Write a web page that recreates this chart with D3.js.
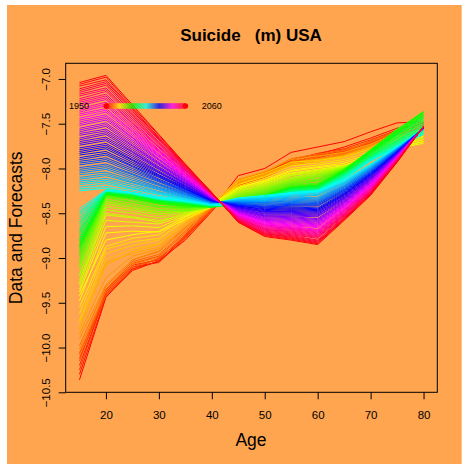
<!DOCTYPE html>
<html>
<head>
<meta charset="utf-8">
<script src="https://cdn.jsdelivr.net/npm/d3@7"></script>
<style>
  body { margin: 0; background: #fff; }
  svg { display: block; }
  text { font-family: "Liberation Sans", Arial, Helvetica, sans-serif; fill: #000; }
</style>
</head>
<body>
<div id="chart"></div>
<script>
// ages on the x axis
const ages = [15, 20, 25, 30, 35, 40, 45, 50, 55, 60, 65, 70, 75, 80];

// observed log death rates, one row per year from 1950
const obsStart = 1950;
const observed = [
  [-10.36, -9.44, -9.12, -9.04, -8.76, -8.46, -8.08, -8.00, -7.82, -7.76, -7.70, -7.59, -7.49, -7.48],
  [-10.30, -9.43, -9.14, -9.03, -8.80, -8.48, -8.15, -8.06, -7.90, -7.84, -7.76, -7.66, -7.55, -7.50],
  [-10.20, -9.40, -9.10, -9.05, -8.78, -8.47, -8.18, -8.08, -7.93, -7.86, -7.80, -7.70, -7.58, -7.52],
  [-10.25, -9.38, -9.08, -9.02, -8.74, -8.45, -8.16, -8.05, -7.91, -7.83, -7.78, -7.68, -7.57, -7.49],
  [-10.12, -9.41, -9.13, -9.00, -8.77, -8.46, -8.19, -8.09, -7.95, -7.88, -7.81, -7.71, -7.60, -7.53],
  [-10.15, -9.36, -9.06, -8.98, -8.72, -8.44, -8.14, -8.07, -7.94, -7.85, -7.79, -7.72, -7.62, -7.54],
  [-10.06, -9.42, -9.10, -9.01, -8.75, -8.47, -8.20, -8.10, -7.96, -7.90, -7.83, -7.73, -7.61, -7.51],
  [-10.08, -9.35, -9.04, -8.96, -8.70, -8.43, -8.17, -8.06, -7.92, -7.87, -7.82, -7.69, -7.59, -7.55],
  [-9.98, -9.32, -9.02, -8.93, -8.66, -8.42, -8.13, -8.04, -7.89, -7.84, -7.80, -7.70, -7.58, -7.50],
  [-10.02, -9.37, -9.07, -8.99, -8.72, -8.45, -8.18, -8.08, -7.93, -7.89, -7.84, -7.74, -7.63, -7.56],
  [-9.90, -9.30, -9.02, -8.92, -8.68, -8.44, -8.16, -8.07, -7.94, -7.90, -7.85, -7.75, -7.62, -7.55],
  [-9.85, -9.22, -8.98, -8.90, -8.65, -8.43, -8.18, -8.09, -7.96, -7.92, -7.86, -7.77, -7.64, -7.57],
  [-9.80, -9.05, -8.95, -8.88, -8.62, -8.40, -8.12, -8.03, -7.90, -7.86, -7.82, -7.73, -7.60, -7.53],
  [-9.78, -9.08, -8.93, -8.85, -8.63, -8.42, -8.15, -8.06, -7.93, -7.90, -7.86, -7.76, -7.63, -7.56],
  [-9.72, -9.02, -8.90, -8.84, -8.60, -8.41, -8.17, -8.08, -7.95, -7.92, -7.88, -7.78, -7.66, -7.58],
  [-9.70, -8.95, -8.86, -8.80, -8.58, -8.40, -8.14, -8.05, -7.93, -7.91, -7.87, -7.78, -7.65, -7.60],
  [-9.62, -8.90, -8.82, -8.78, -8.57, -8.41, -8.18, -8.09, -7.97, -7.94, -7.90, -7.81, -7.68, -7.62],
  [-9.55, -8.87, -8.78, -8.74, -8.55, -8.40, -8.20, -8.11, -8.00, -7.96, -7.92, -7.84, -7.71, -7.64],
  [-9.48, -8.72, -8.70, -8.71, -8.57, -8.43, -8.22, -8.13, -8.02, -7.98, -7.94, -7.86, -7.74, -7.68],
  [-9.42, -8.80, -8.74, -8.70, -8.54, -8.41, -8.21, -8.14, -8.03, -7.99, -7.96, -7.88, -7.76, -7.70],
  [-9.38, -8.65, -8.64, -8.66, -8.53, -8.42, -8.23, -8.15, -8.05, -8.01, -7.97, -7.90, -7.77, -7.72],
  [-9.35, -8.58, -8.60, -8.62, -8.52, -8.41, -8.22, -8.16, -8.06, -8.02, -7.98, -7.90, -7.78, -7.70],
  [-9.30, -8.52, -8.55, -8.60, -8.50, -8.42, -8.25, -8.17, -8.07, -8.03, -7.97, -7.88, -7.75, -7.66],
  [-9.28, -8.50, -8.54, -8.58, -8.51, -8.43, -8.24, -8.18, -8.08, -8.04, -7.99, -7.89, -7.74, -7.65],
  [-9.25, -8.46, -8.50, -8.55, -8.49, -8.42, -8.26, -8.19, -8.10, -8.05, -7.98, -7.87, -7.72, -7.62],
  [-9.20, -8.43, -8.47, -8.52, -8.48, -8.43, -8.27, -8.20, -8.11, -8.06, -7.99, -7.88, -7.71, -7.60],
  [-9.18, -8.40, -8.45, -8.50, -8.47, -8.42, -8.28, -8.21, -8.12, -8.07, -8.00, -7.86, -7.69, -7.58],
  [-9.12, -8.38, -8.43, -8.49, -8.48, -8.43, -8.29, -8.22, -8.13, -8.08, -7.99, -7.85, -7.68, -7.56],
  [-9.10, -8.36, -8.42, -8.47, -8.46, -8.42, -8.30, -8.23, -8.14, -8.09, -8.00, -7.84, -7.66, -7.54],
  [-9.08, -8.35, -8.40, -8.46, -8.47, -8.43, -8.31, -8.24, -8.15, -8.10, -8.01, -7.84, -7.64, -7.50],
  [-9.05, -8.33, -8.38, -8.44, -8.45, -8.42, -8.32, -8.25, -8.16, -8.12, -8.00, -7.82, -7.62, -7.47],
  [-9.02, -8.32, -8.37, -8.43, -8.44, -8.43, -8.33, -8.26, -8.17, -8.13, -8.01, -7.81, -7.61, -7.45],
  [-8.98, -8.31, -8.35, -8.42, -8.44, -8.42, -8.34, -8.27, -8.18, -8.14, -8.02, -7.80, -7.59, -7.42],
  [-8.95, -8.30, -8.34, -8.40, -8.43, -8.43, -8.35, -8.28, -8.19, -8.16, -8.01, -7.79, -7.58, -7.40],
  [-8.93, -8.29, -8.33, -8.39, -8.42, -8.42, -8.36, -8.29, -8.20, -8.17, -8.02, -7.80, -7.57, -7.38],
  [-8.90, -8.28, -8.32, -8.38, -8.41, -8.43, -8.37, -8.30, -8.21, -8.18, -8.03, -7.79, -7.56, -7.37],
  [-8.88, -8.29, -8.33, -8.39, -8.42, -8.42, -8.38, -8.31, -8.22, -8.19, -8.02, -7.80, -7.58, -7.36],
  [-8.86, -8.28, -8.31, -8.37, -8.40, -8.43, -8.39, -8.30, -8.21, -8.20, -8.04, -7.81, -7.59, -7.38],
  [-8.85, -8.27, -8.30, -8.36, -8.39, -8.42, -8.38, -8.31, -8.22, -8.19, -8.03, -7.82, -7.60, -7.40],
  [-8.82, -8.28, -8.31, -8.37, -8.40, -8.43, -8.40, -8.32, -8.23, -8.21, -8.05, -7.83, -7.62, -7.41],
  [-8.80, -8.26, -8.29, -8.35, -8.38, -8.42, -8.39, -8.31, -8.22, -8.20, -8.04, -7.82, -7.61, -7.43],
  [-8.78, -8.27, -8.30, -8.36, -8.39, -8.43, -8.41, -8.33, -8.24, -8.22, -8.06, -7.84, -7.63, -7.44],
  [-8.75, -8.26, -8.29, -8.35, -8.38, -8.42, -8.40, -8.32, -8.23, -8.21, -8.05, -7.85, -7.65, -7.46],
  [-8.72, -8.25, -8.28, -8.34, -8.37, -8.41, -8.41, -8.34, -8.25, -8.23, -8.07, -7.86, -7.66, -7.48],
  [-8.70, -8.26, -8.29, -8.35, -8.38, -8.42, -8.40, -8.33, -8.24, -8.22, -8.06, -7.87, -7.68, -7.50],
  [-8.68, -8.25, -8.28, -8.34, -8.37, -8.41, -8.41, -8.35, -8.26, -8.24, -8.08, -7.88, -7.69, -7.52],
  [-8.65, -8.24, -8.27, -8.33, -8.36, -8.40, -8.40, -8.34, -8.25, -8.23, -8.07, -7.87, -7.70, -7.53],
  [-8.62, -8.25, -8.28, -8.34, -8.37, -8.41, -8.41, -8.36, -8.27, -8.25, -8.09, -7.89, -7.71, -7.55],
  [-8.60, -8.24, -8.27, -8.33, -8.36, -8.40, -8.40, -8.35, -8.26, -8.24, -8.08, -7.88, -7.72, -7.56],
  [-8.57, -8.25, -8.28, -8.34, -8.37, -8.41, -8.41, -8.36, -8.28, -8.25, -8.10, -7.90, -7.73, -7.57],
  [-8.55, -8.24, -8.27, -8.33, -8.36, -8.40, -8.40, -8.35, -8.27, -8.24, -8.09, -7.89, -7.74, -7.58],
  [-8.52, -8.25, -8.28, -8.34, -8.37, -8.41, -8.41, -8.36, -8.28, -8.26, -8.11, -7.91, -7.74, -7.59],
  [-8.50, -8.24, -8.27, -8.33, -8.36, -8.40, -8.40, -8.35, -8.27, -8.25, -8.10, -7.90, -7.75, -7.60],
  [-8.48, -8.25, -8.28, -8.34, -8.37, -8.41, -8.41, -8.36, -8.28, -8.26, -8.12, -7.92, -7.76, -7.61],
  [-8.45, -8.24, -8.27, -8.33, -8.36, -8.40, -8.40, -8.35, -8.27, -8.25, -8.11, -7.91, -7.76, -7.62]
];

// forecasts 2005-2060, one array per age (index = year - 2005)
const fc15 = [-8.25,-8.23,-8.21,-8.18,-8.16,-8.14,-8.12,-8.10,-8.07,-8.05,-8.03,-8.01,-7.99,-7.96,-7.94,-7.92,-7.90,-7.88,-7.85,-7.83,-7.81,-7.79,-7.77,-7.74,-7.72,-7.70,-7.68,-7.66,-7.63,-7.61,-7.59,-7.57,-7.55,-7.52,-7.50,-7.48,-7.46,-7.44,-7.41,-7.39,-7.37,-7.35,-7.33,-7.30,-7.28,-7.26,-7.24,-7.22,-7.19,-7.17,-7.15,-7.13,-7.11,-7.08,-7.06,-7.04];
const fc20 = [-8.22,-8.20,-8.17,-8.15,-8.13,-8.11,-8.08,-8.06,-8.04,-8.01,-7.99,-7.97,-7.95,-7.92,-7.90,-7.88,-7.85,-7.83,-7.81,-7.78,-7.76,-7.74,-7.72,-7.69,-7.67,-7.65,-7.62,-7.60,-7.58,-7.56,-7.53,-7.51,-7.49,-7.46,-7.44,-7.42,-7.40,-7.37,-7.35,-7.33,-7.30,-7.28,-7.26,-7.23,-7.21,-7.19,-7.17,-7.14,-7.12,-7.10,-7.07,-7.05,-7.03,-7.01,-6.98,-6.96];
const fc25 = [-8.27,-8.25,-8.23,-8.22,-8.20,-8.18,-8.16,-8.15,-8.13,-8.11,-8.09,-8.07,-8.06,-8.04,-8.02,-8.00,-7.98,-7.97,-7.95,-7.93,-7.91,-7.90,-7.88,-7.86,-7.84,-7.82,-7.81,-7.79,-7.77,-7.75,-7.74,-7.72,-7.70,-7.68,-7.66,-7.65,-7.63,-7.61,-7.59,-7.58,-7.56,-7.54,-7.52,-7.50,-7.49,-7.47,-7.45,-7.43,-7.41,-7.40,-7.38,-7.36,-7.34,-7.33,-7.31,-7.29];
const fc30 = [-8.32,-8.31,-8.29,-8.28,-8.27,-8.26,-8.24,-8.23,-8.22,-8.21,-8.19,-8.18,-8.17,-8.15,-8.14,-8.13,-8.12,-8.10,-8.09,-8.08,-8.07,-8.05,-8.04,-8.03,-8.01,-8.00,-7.99,-7.98,-7.96,-7.95,-7.94,-7.93,-7.91,-7.90,-7.89,-7.87,-7.86,-7.85,-7.84,-7.82,-7.81,-7.80,-7.79,-7.77,-7.76,-7.75,-7.73,-7.72,-7.71,-7.70,-7.68,-7.67,-7.66,-7.65,-7.63,-7.62];
const fc35 = [-8.36,-8.35,-8.35,-8.34,-8.33,-8.32,-8.32,-8.31,-8.30,-8.29,-8.29,-8.28,-8.27,-8.26,-8.26,-8.25,-8.24,-8.23,-8.23,-8.22,-8.21,-8.20,-8.20,-8.19,-8.18,-8.17,-8.17,-8.16,-8.15,-8.14,-8.14,-8.13,-8.12,-8.11,-8.11,-8.10,-8.09,-8.08,-8.08,-8.07,-8.06,-8.05,-8.05,-8.04,-8.03,-8.02,-8.02,-8.01,-8.00,-7.99,-7.99,-7.98,-7.97,-7.96,-7.96,-7.95];
const fc40 = [-8.40,-8.40,-8.40,-8.39,-8.39,-8.39,-8.39,-8.38,-8.38,-8.38,-8.38,-8.37,-8.37,-8.37,-8.37,-8.36,-8.36,-8.36,-8.36,-8.36,-8.35,-8.35,-8.35,-8.35,-8.34,-8.34,-8.34,-8.34,-8.33,-8.33,-8.33,-8.33,-8.32,-8.32,-8.32,-8.32,-8.31,-8.31,-8.31,-8.31,-8.31,-8.30,-8.30,-8.30,-8.30,-8.29,-8.29,-8.29,-8.29,-8.28,-8.28,-8.28,-8.28,-8.27,-8.27,-8.27];
const fc45 = [-8.33,-8.33,-8.34,-8.34,-8.35,-8.35,-8.36,-8.36,-8.37,-8.37,-8.38,-8.38,-8.39,-8.39,-8.40,-8.40,-8.41,-8.41,-8.42,-8.42,-8.43,-8.43,-8.44,-8.44,-8.45,-8.45,-8.46,-8.46,-8.47,-8.47,-8.48,-8.48,-8.49,-8.49,-8.50,-8.50,-8.51,-8.51,-8.52,-8.52,-8.53,-8.53,-8.54,-8.54,-8.55,-8.55,-8.56,-8.56,-8.57,-8.57,-8.58,-8.58,-8.59,-8.59,-8.60,-8.60];
const fc50 = [-8.30,-8.31,-8.32,-8.33,-8.33,-8.34,-8.35,-8.36,-8.37,-8.38,-8.38,-8.39,-8.40,-8.41,-8.42,-8.43,-8.43,-8.44,-8.45,-8.46,-8.47,-8.48,-8.48,-8.49,-8.50,-8.51,-8.52,-8.53,-8.53,-8.54,-8.55,-8.56,-8.57,-8.58,-8.58,-8.59,-8.60,-8.61,-8.62,-8.63,-8.63,-8.64,-8.65,-8.66,-8.67,-8.68,-8.68,-8.69,-8.70,-8.71,-8.72,-8.73,-8.73,-8.74,-8.75,-8.76];
const fc55 = [-8.27,-8.28,-8.29,-8.30,-8.31,-8.32,-8.33,-8.34,-8.35,-8.36,-8.37,-8.38,-8.39,-8.40,-8.40,-8.41,-8.42,-8.43,-8.44,-8.45,-8.46,-8.47,-8.48,-8.49,-8.50,-8.51,-8.52,-8.53,-8.54,-8.55,-8.56,-8.57,-8.58,-8.59,-8.60,-8.61,-8.62,-8.63,-8.64,-8.65,-8.66,-8.67,-8.67,-8.68,-8.69,-8.70,-8.71,-8.72,-8.73,-8.74,-8.75,-8.76,-8.77,-8.78,-8.79,-8.80];
const fc60 = [-8.25,-8.26,-8.27,-8.28,-8.29,-8.30,-8.32,-8.33,-8.34,-8.35,-8.36,-8.37,-8.38,-8.39,-8.40,-8.41,-8.42,-8.44,-8.45,-8.46,-8.47,-8.48,-8.49,-8.50,-8.51,-8.52,-8.53,-8.54,-8.56,-8.57,-8.58,-8.59,-8.60,-8.61,-8.62,-8.63,-8.64,-8.65,-8.66,-8.68,-8.69,-8.70,-8.71,-8.72,-8.73,-8.74,-8.75,-8.76,-8.77,-8.78,-8.80,-8.81,-8.82,-8.83,-8.84,-8.85];
const fc65 = [-8.13,-8.14,-8.15,-8.15,-8.16,-8.17,-8.18,-8.19,-8.20,-8.20,-8.21,-8.22,-8.23,-8.24,-8.24,-8.25,-8.26,-8.27,-8.28,-8.29,-8.29,-8.30,-8.31,-8.32,-8.33,-8.33,-8.34,-8.35,-8.36,-8.37,-8.38,-8.38,-8.39,-8.40,-8.41,-8.42,-8.42,-8.43,-8.44,-8.45,-8.46,-8.47,-8.47,-8.48,-8.49,-8.50,-8.51,-8.51,-8.52,-8.53,-8.54,-8.55,-8.56,-8.56,-8.57,-8.58];
const fc70 = [-7.95,-7.96,-7.96,-7.97,-7.98,-7.98,-7.99,-7.99,-8.00,-8.01,-8.01,-8.02,-8.03,-8.03,-8.04,-8.05,-8.05,-8.06,-8.06,-8.07,-8.08,-8.08,-8.09,-8.10,-8.10,-8.11,-8.12,-8.12,-8.13,-8.13,-8.14,-8.15,-8.15,-8.16,-8.17,-8.17,-8.18,-8.19,-8.19,-8.20,-8.20,-8.21,-8.22,-8.22,-8.23,-8.24,-8.24,-8.25,-8.26,-8.26,-8.27,-8.27,-8.28,-8.29,-8.29,-8.30];
const fc75 = [-7.76,-7.76,-7.77,-7.77,-7.77,-7.78,-7.78,-7.78,-7.78,-7.79,-7.79,-7.79,-7.80,-7.80,-7.80,-7.81,-7.81,-7.81,-7.82,-7.82,-7.82,-7.82,-7.83,-7.83,-7.83,-7.84,-7.84,-7.84,-7.85,-7.85,-7.85,-7.86,-7.86,-7.86,-7.87,-7.87,-7.87,-7.87,-7.88,-7.88,-7.88,-7.89,-7.89,-7.89,-7.90,-7.90,-7.90,-7.91,-7.91,-7.91,-7.91,-7.92,-7.92,-7.92,-7.93,-7.93];
const fc80 = [-7.56,-7.56,-7.56,-7.56,-7.56,-7.56,-7.56,-7.56,-7.56,-7.56,-7.55,-7.55,-7.55,-7.55,-7.55,-7.55,-7.55,-7.55,-7.55,-7.55,-7.55,-7.55,-7.55,-7.55,-7.55,-7.55,-7.55,-7.55,-7.54,-7.54,-7.54,-7.54,-7.54,-7.54,-7.54,-7.54,-7.54,-7.54,-7.54,-7.54,-7.54,-7.54,-7.54,-7.54,-7.54,-7.54,-7.53,-7.53,-7.53,-7.53,-7.53,-7.53,-7.53,-7.53,-7.53,-7.53];
const forecastCols = [fc15, fc20, fc25, fc30, fc35, fc40, fc45, fc50, fc55, fc60, fc65, fc70, fc75, fc80];

const legendYears = [1950, 2060];
const xTicks = [20, 30, 40, 50, 60, 70, 80];
const yTicks = [-10.5, -10.0, -9.5, -9.0, -8.5, -8.0, -7.5, -7.0];

// ---- layout ----
const width = 463, height = 464;
const plot = { left: 65.7, right: 437.3, top: 63.3, bottom: 392.3 };
const bg = "#ffa54f";
const font = '"Liberation Sans", Arial, Helvetica, sans-serif';

const svg = d3.select("#chart").append("svg")
  .attr("width", width)
  .attr("height", height);

svg.append("rect").attr("width", width).attr("height", height).attr("fill", "#fff");
svg.append("rect")
  .attr("x", 7).attr("y", 5)
  .attr("width", 454.7).attr("height", height - 5)
  .attr("fill", bg);

const x = d3.scaleLinear().domain([12.4, 82.6]).range([plot.left, plot.right]);
const y = d3.scaleLinear().domain([-10.5, -6.825]).range([plot.bottom, plot.top]);

// build one curve per year: observed first, then forecasts
const nFc = d3.min(forecastCols, (c) => c.length);
const forecast = d3.range(nFc).map((j) => forecastCols.map((c) => c[j]));
const curves = observed.concat(forecast);
const nYears = curves.length;
const colour = (i) => d3.hsl((360 * i) / nYears, 1, 0.5).formatHex(); // like R rainbow()

const line = d3.line()
  .x((d, i) => x(ages[i]))
  .y((d) => y(d));

svg.append("g")
  .attr("class", "curves")
  .selectAll("path")
  .data(curves)
  .join("path")
  .attr("d", line)
  .attr("fill", "none")
  .attr("stroke", (d, i) => colour(i))
  .attr("stroke-width", 1);

// box
svg.append("rect")
  .attr("x", plot.left).attr("y", plot.top)
  .attr("width", plot.right - plot.left)
  .attr("height", plot.bottom - plot.top)
  .attr("fill", "none")
  .attr("stroke", "#000")
  .attr("stroke-width", 1);

// x axis
const xAxis = svg.append("g")
  .attr("transform", `translate(0,${plot.bottom})`)
  .call(d3.axisBottom(x).tickValues(xTicks).tickSize(7).tickSizeOuter(0));
xAxis.select(".domain").remove();
xAxis.selectAll(".tick line").attr("stroke", "#000");
xAxis.selectAll(".tick text")
  .attr("y", 27.2).attr("dy", 0)
  .style("font-family", font).style("font-size", "11.5px").attr("fill", "#000");

// y axis, labels turned like R's default
const yAxis = svg.append("g")
  .attr("transform", `translate(${plot.left},0)`)
  .call(d3.axisLeft(y).tickValues(yTicks).tickSize(7).tickSizeOuter(0)
    .tickFormat(d3.format(".1f")));
yAxis.select(".domain").remove();
yAxis.selectAll(".tick line").attr("stroke", "#000");
yAxis.selectAll(".tick text")
  .attr("x", 0).attr("dy", 0)
  .attr("text-anchor", "middle")
  .attr("transform", "translate(-15.7,0) rotate(-90)")
  .style("font-family", font).style("font-size", "11.5px").attr("fill", "#000");

// titles
svg.append("text")
  .attr("x", 251).attr("y", 40.5)
  .attr("text-anchor", "middle")
  .style("font-size", "17px").style("font-weight", "bold")
  .text("Suicide   (m) USA")
  .attr("xml:space", "preserve")
  .style("white-space", "pre");

svg.append("text")
  .attr("x", 251).attr("y", 446)
  .attr("text-anchor", "middle")
  .style("font-size", "17.5px")
  .text("Age");

svg.append("text")
  .attr("transform", `translate(21.5,${(plot.top + plot.bottom) / 2}) rotate(-90)`)
  .attr("text-anchor", "middle")
  .style("font-size", "17.5px")
  .text("Data and Forecasts");

// colour legend
const legend = svg.append("g").attr("class", "legend");
const lx = d3.scaleLinear().domain([0, nYears - 1]).range([106.2, 185.4]);
const ly = 106;
legend.selectAll("line")
  .data(d3.range(nYears))
  .join("line")
  .attr("x1", (i) => lx(Math.max(i - 0.5, 0)))
  .attr("x2", (i) => lx(Math.min(i + 0.5, nYears - 1)))
  .attr("y1", ly).attr("y2", ly)
  .attr("stroke", (i) => colour(i))
  .attr("stroke-width", 5.5);
legend.append("circle").attr("cx", lx(0)).attr("cy", ly).attr("r", 2.75).attr("fill", colour(0));
legend.append("circle").attr("cx", lx(nYears - 1)).attr("cy", ly).attr("r", 2.75).attr("fill", colour(nYears - 1));

legend.append("text")
  .attr("x", 89).attr("y", ly + 3.2)
  .attr("text-anchor", "end")
  .style("font-size", "9px")
  .text(legendYears[0]);
legend.append("text")
  .attr("x", 201.7).attr("y", ly + 3.2)
  .attr("text-anchor", "start")
  .style("font-size", "9px")
  .text(legendYears[1]);
</script>
</body>
</html>
